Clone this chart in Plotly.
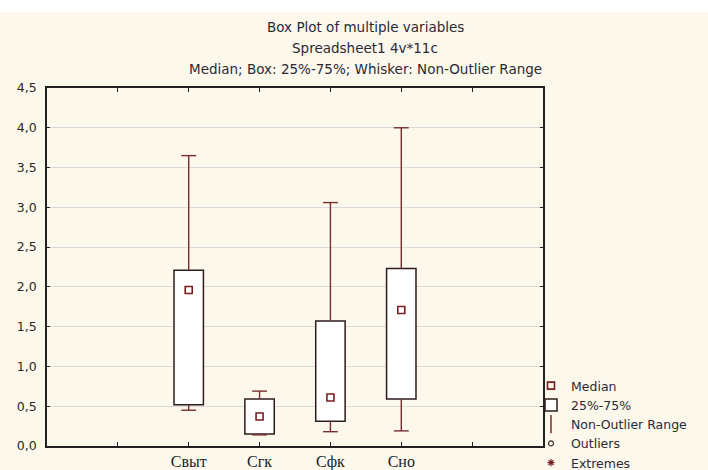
import plotly.graph_objects as go

# Four variables summarised as box plots (median, quartiles, non-outlier range)
variables = ["Свыт", "Сгк", "Сфк", "Сно"]
positions = [2, 3, 4, 5]
lower = [0.45, 0.14, 0.18, 0.19]
q1 = [0.52, 0.15, 0.31, 0.59]
median = [1.96, 0.37, 0.61, 1.71]
q3 = [2.21, 0.59, 1.57, 2.23]
upper = [3.65, 0.69, 3.06, 4.00]

y_tick_values = [0.0, 0.5, 1.0, 1.5, 2.0, 2.5, 3.0, 3.5, 4.0, 4.5]
y_tick_labels = ["0,0", "0,5", "1,0", "1,5", "2,0", "2,5", "3,0", "3,5", "4,0", "4,5"]
x_tick_values = [1, 2, 3, 4, 5, 6]
x_tick_labels = ["", "Свыт", "Сгк", "Сфк", "Сно", ""]

title_lines = [
    "Box Plot of multiple variables",
    "Spreadsheet1 4v*11c",
    "Median; Box: 25%-75%; Whisker: Non-Outlier Range",
]

BOX_LINE = "#2e1c1c"
WHISKER = "#7a2e2e"
MEDIAN_C = "#7a1f1f"
TEXT_C = "#2a2a36"
BOX_WIDTH = 0.415
CAP_HALF = 0.105

# whisker stems and caps, separated by None so one trace draws them all
wx, wy = [], []
for p, lo, a, b, hi in zip(positions, lower, q1, q3, upper):
    wx += [p, p, None, p - CAP_HALF, p + CAP_HALF, None]
    wy += [b, hi, None, hi, hi, None]
    wx += [p, p, None, p - CAP_HALF, p + CAP_HALF, None]
    wy += [a, lo, None, lo, lo, None]

fig = go.Figure()

fig.add_trace(go.Bar(
    x=positions,
    y=[b - a for a, b in zip(q1, q3)],
    base=q1,
    width=BOX_WIDTH,
    marker=dict(color="white", line=dict(color=BOX_LINE, width=1.5)),
    name="25%-75%",
    legendrank=2,
))

fig.add_trace(go.Scatter(
    x=wx, y=wy, mode="lines",
    line=dict(color=WHISKER, width=1.4),
    showlegend=False,
))

fig.add_trace(go.Scatter(
    x=positions, y=median, mode="markers",
    marker=dict(symbol="square-open", size=7, color=MEDIAN_C, line=dict(width=1.6)),
    name="Median",
    legendrank=1,
))

# legend-only entries
fig.add_trace(go.Scatter(
    x=[None], y=[None], mode="markers",
    marker=dict(symbol="line-ns-open", size=13, color=WHISKER, line=dict(width=1.5)),
    name="Non-Outlier Range",
    legendrank=3,
))
fig.add_trace(go.Scatter(
    x=[None], y=[None], mode="markers",
    marker=dict(symbol="circle-open", size=5, color="#3a2a2a", line=dict(width=1.2)),
    name="Outliers",
    legendrank=4,
))
fig.add_trace(go.Scatter(
    x=[None], y=[None], mode="markers",
    marker=dict(symbol="asterisk-open", size=6, color=MEDIAN_C, line=dict(width=1.2)),
    name="Extremes",
    legendrank=5,
))

L, R, T, B = 47, 165, 88, 24
W, H = 708, 470
plot_w, plot_h = W - L - R, H - T - B

def px_x(px):
    return (px - L) / plot_w

def px_y(py):
    return (H - B - py) / plot_h

annotations = []
for line_text, ypix in zip(title_lines, [27, 48, 69]):
    annotations.append(dict(
        text=line_text, xref="paper", yref="paper",
        x=px_x(365), y=px_y(ypix), xanchor="center", yanchor="middle",
        showarrow=False, font=dict(family="DejaVu Sans", size=13.5, color=TEXT_C),
    ))

fig.update_layout(
    width=W, height=H,
    margin=dict(l=L, r=R, t=T, b=B, autoexpand=False),
    paper_bgcolor="white",
    plot_bgcolor="white",
    barmode="overlay",
    annotations=annotations,
    shapes=[dict(
        type="rect", xref="paper", yref="paper",
        x0=px_x(0), x1=px_x(W), y0=px_y(H), y1=px_y(12),
        fillcolor="#fcf8ec", line=dict(width=0), layer="below",
    )],
    showlegend=True,
    legend=dict(
        x=px_x(531), y=px_y(371), xanchor="left", yanchor="top",
        bgcolor="rgba(0,0,0,0)", borderwidth=0,
        font=dict(family="DejaVu Sans", size=12.5, color=TEXT_C),
        tracegroupgap=0, traceorder="normal",
    ),
    xaxis=dict(
        range=[0, 7], tickmode="array", tickvals=x_tick_values, ticktext=x_tick_labels,
        ticks="inside", ticklen=4, tickcolor="#222", tickwidth=1,
        showline=True, linecolor="#222", linewidth=1.5, mirror="ticks",
        showgrid=False, zeroline=False,
        tickfont=dict(family="Liberation Serif", size=16, color="#222"),
        fixedrange=True,
    ),
    yaxis=dict(
        range=[0, 4.5], tickmode="array", tickvals=y_tick_values, ticktext=y_tick_labels,
        ticks="inside", ticklen=3, tickcolor="#222", tickwidth=1,
        showline=True, linecolor="#222", linewidth=1.5, mirror="ticks",
        showgrid=True, gridcolor="#dadada", gridwidth=1, zeroline=False,
        tickfont=dict(family="DejaVu Sans", size=12.5, color="#2a2a2a"),
        ticklabelstandoff=6,
        fixedrange=True,
    ),
)

fig.write_html("out.html")
